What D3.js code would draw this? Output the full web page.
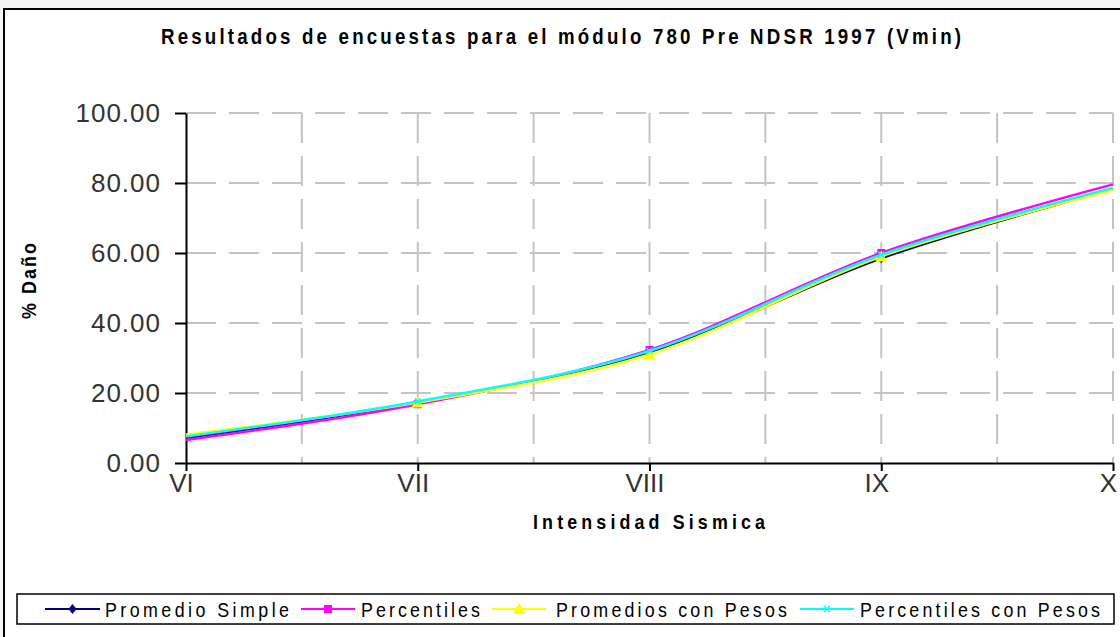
<!DOCTYPE html>
<html>
<head>
<meta charset="utf-8">
<script src="https://cdn.jsdelivr.net/npm/d3@7"></script>
<style>
  html, body { margin: 0; padding: 0; background: #f5f5f5; }
  svg { display: block; }
  text { font-family: Arial, "Liberation Sans", sans-serif; }
</style>
</head>
<body>
<svg id="chart" width="1120" height="637"></svg>
<script>
// Intensity categories (Modified Mercalli scale)
const categories = ["VI", "VII", "VIII", "IX", "X"];

// % damage per intensity, module 780 Pre NDSR 1997 (Vmin)
const promedioSimple      = [7.2, 17.2, 31.5, 58.5, 78.3];
const percentiles         = [6.6, 16.8, 32.3, 60.0, 79.6];
const promediosConPesos   = [8.1, 17.3, 31.0, 59.0, 78.0];
const percentilesConPesos = [7.6, 17.6, 32.0, 59.5, 78.6];

const yTicks = [0, 20, 40, 60, 80, 100];

const seriesNames = ["Promedio Simple", "Percentiles", "Promedios con Pesos", "Percentiles con Pesos"];
const seriesValues = [promedioSimple, percentiles, promediosConPesos, percentilesConPesos];
const seriesColors = ["#000080", "#ff00ff", "#ffff00", "#00ffff"];
const seriesMarkers = ["diamond", "square", "triangle", "cross"];

const svg = d3.select("#chart");

// condensed, spaced-out text: glyphs squeezed horizontally, then spread to a given width
function condensedText(parent, cx, cy, str, opts) {
  const sq = opts.squeeze || 0.85;
  const g = parent.append("g")
    .attr("transform", `translate(${cx},${cy})${opts.rotate ? ` rotate(${opts.rotate})` : ""} scale(${sq},1)`);
  return g.append("text")
    .attr("x", 0).attr("y", 0)
    .attr("text-anchor", opts.anchor || "start")
    .attr("font-size", opts.size)
    .attr("font-weight", opts.bold ? "bold" : "normal")
    .attr("fill", opts.fill || "#000")
    .attr("textLength", opts.width / sq)
    .attr("lengthAdjust", "spacing")
    .text(str);
}

// chart frame
svg.append("rect")
  .attr("x", 4).attr("y", 9)
  .attr("width", 1130).attr("height", 640)
  .attr("fill", "#ffffff")
  .attr("stroke", "#000").attr("stroke-width", 2);

const x = d3.scalePoint().domain(categories).range([186, 1113]);
const y = d3.scaleLinear().domain([0, 100]).range([463, 113]);

// title
condensedText(svg, 561, 44, "Resultados de encuestas para el módulo 780 Pre NDSR 1997 (Vmin)",
  { size: 22, bold: true, width: 800, anchor: "middle" });

// grid
const grid = svg.append("g").attr("stroke", "#c4c4c4").attr("stroke-width", 2)
  .attr("stroke-dasharray", "30,13").attr("fill", "none");

yTicks.filter(d => d > 0).forEach(d => {
  grid.append("line")
    .attr("x1", x(categories[0])).attr("x2", x(categories[categories.length - 1]))
    .attr("y1", y(d)).attr("y2", y(d));
});

const half = x.step() / 2;
const vGrid = [];
categories.forEach((c, i) => {
  if (i > 0) vGrid.push(x(c) - half, x(c));
});
vGrid.forEach(px => {
  grid.append("line")
    .attr("x1", px).attr("x2", px)
    .attr("y1", y(100)).attr("y2", y(0));
});

// axes
const yAxis = d3.axisLeft(y).tickValues(yTicks).tickFormat(d3.format(".2f"))
  .tickSize(11).tickSizeOuter(0).tickPadding(14);
const gy = svg.append("g").attr("transform", `translate(${x(categories[0])},0)`).call(yAxis);
gy.select(".domain").attr("stroke", "#000").attr("stroke-width", 2);
gy.selectAll(".tick line").attr("stroke", "#000").attr("stroke-width", 2);
gy.selectAll(".tick text")
  .attr("font-size", 26).attr("fill", "#333")
  .attr("font-family", "Arial, 'Liberation Sans', sans-serif")
  .style("letter-spacing", "1px");

const xAxis = d3.axisBottom(x).tickSize(8).tickSizeOuter(0).tickPadding(3);
const gx = svg.append("g").attr("transform", `translate(0,${y(0)})`).call(xAxis);
gx.select(".domain").attr("stroke", "#000").attr("stroke-width", 2);
gx.selectAll(".tick line").attr("stroke", "#000").attr("stroke-width", 2);
gx.selectAll(".tick text")
  .attr("font-size", 26).attr("fill", "#333").attr("dx", -5)
  .attr("font-family", "Arial, 'Liberation Sans', sans-serif");

// axis titles
condensedText(svg, 649, 529, "Intensidad Sismica", { size: 21, bold: true, width: 232, anchor: "middle" });
condensedText(svg, 36, 281, "% Daño", { size: 21, bold: true, width: 76, anchor: "middle", rotate: -90 });

// series
const line = d3.line()
  .x((d, i) => x(categories[i]))
  .y(d => y(d))
  .curve(d3.curveCatmullRom.alpha(0));

function drawMarker(g, type, color, cx, cy) {
  if (type === "diamond") {
    g.append("path").attr("d", `M${cx},${cy - 5}L${cx + 4},${cy}L${cx},${cy + 5}L${cx - 4},${cy}Z`)
      .attr("fill", color);
  } else if (type === "square") {
    g.append("rect").attr("x", cx - 4).attr("y", cy - 4).attr("width", 8).attr("height", 8)
      .attr("fill", color);
  } else if (type === "triangle") {
    g.append("path").attr("d", `M${cx},${cy - 6}L${cx + 6},${cy + 5}L${cx - 6},${cy + 5}Z`)
      .attr("fill", color);
  } else if (type === "cross") {
    g.append("path").attr("d", `M${cx - 3},${cy - 3}L${cx + 3},${cy + 3}M${cx + 3},${cy - 3}L${cx - 3},${cy + 3}`)
      .attr("stroke", color).attr("stroke-width", 1.5);
  }
}

seriesValues.forEach((vals, si) => {
  const g = svg.append("g");
  g.append("path")
    .datum(vals)
    .attr("d", line)
    .attr("fill", "none")
    .attr("stroke", seriesColors[si])
    .attr("stroke-width", 2.5);
  vals.forEach((v, i) => {
    if (i > 0 && i < vals.length - 1) drawMarker(g, seriesMarkers[si], seriesColors[si], x(categories[i]), y(v));
  });
});

// legend
const legend = svg.append("g");
legend.append("rect")
  .attr("x", 17).attr("y", 594).attr("width", 1097).attr("height", 30)
  .attr("fill", "#fff").attr("stroke", "#000").attr("stroke-width", 1.5);

// swatch start/end and label start/end for each entry
const legendSpec = [
  { l0: 45, l1: 100, t0: 105, t1: 289 },
  { l0: 301, l1: 355, t0: 361, t1: 480 },
  { l0: 492, l1: 546, t0: 556, t1: 787 },
  { l0: 800, l1: 854, t0: 860, t1: 1100 }
];

seriesNames.forEach((name, si) => {
  const s = legendSpec[si];
  const ly = 609;
  legend.append("line")
    .attr("x1", s.l0).attr("x2", s.l1).attr("y1", ly).attr("y2", ly)
    .attr("stroke", seriesColors[si]).attr("stroke-width", 2);
  drawMarker(legend, seriesMarkers[si], seriesColors[si], (s.l0 + s.l1) / 2, ly);
  condensedText(legend, s.t0, ly + 8, name, { size: 21, width: s.t1 - s.t0 });
});
</script>
</body>
</html>
